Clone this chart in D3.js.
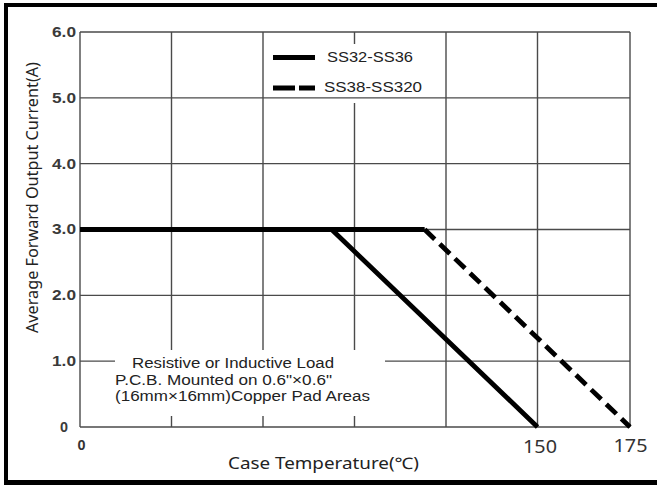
<!DOCTYPE html>
<html>
<head>
<meta charset="utf-8">
<script src="https://cdn.jsdelivr.net/npm/d3@7"></script>
<style>
  body { margin: 0; background: #fff; }
  svg { display: block; }
</style>
</head>
<body>
<svg id="chart" width="657" height="485"></svg>
<script>
// data
const xTicks = [0, 30, 60, 90, 120, 150, 175];
const xTickLabels = ["0", "", "", "", "", "150", "175"];
const yTicks = [0, 1, 2, 3, 4, 5, 6];
const yTickLabels = ["0", "1.0", "2.0", "3.0", "4.0", "5.0", "6.0"];
const seriesNames = ["SS32-SS36", "SS38-SS320"];
const ss32Temp = [0, 82.5, 150];
const ss32Current = [3.0, 3.0, 0];
const ss38Temp = [0, 113, 175];
const ss38Current = [3.0, 3.0, 0];
const noteLines = ["Resistive or Inductive Load", "P.C.B. Mounted on 0.6\"\u00d70.6\"", "(16mm\u00d716mm)Copper Pad Areas"];

const svg = d3.select("#chart");
const plotLeft = 80, plotRight = 630, plotTop = 32, plotBottom = 427;

// grid is evenly spaced but the last column is only 25 degC wide
const x = d3.scaleLinear().domain([0, 150, 175]).range([plotLeft, 537.5, plotRight]);
const y = d3.scaleLinear().domain([0, 6]).range([plotBottom, plotTop]);

// the source image is stretched sideways, so text widths are forced
const arial = "'Liberation Sans', Arial, sans-serif";
const noto = "'Noto Sans', 'Open Sans', sans-serif";

// outer frame (right edge is cut off in the original)
svg.append("path")
  .attr("d", "M6,485 L6,5 L657,5")
  .attr("fill", "none").attr("stroke", "#000").attr("stroke-width", 4);
svg.append("line").attr("x1", 4).attr("x2", 657).attr("y1", 482.5).attr("y2", 482.5)
  .attr("stroke", "#000").attr("stroke-width", 5);

const gridColor = "#4a4a4a";

// vertical grid
svg.append("g").selectAll("line").data(xTicks).join("line")
  .attr("x1", d => x(d)).attr("x2", d => x(d))
  .attr("y1", y(6)).attr("y2", y(0))
  .attr("stroke", gridColor).attr("stroke-width", 1.4);

// legend backing hides the vertical grid behind it
svg.append("rect").attr("x", 266).attr("y", 44).attr("width", 176).attr("height", 59).attr("fill", "#fff");

// horizontal grid
svg.append("g").selectAll("line").data(yTicks).join("line")
  .attr("x1", x(0)).attr("x2", x(175))
  .attr("y1", d => y(d)).attr("y2", d => y(d))
  .attr("stroke", gridColor).attr("stroke-width", 1.4);

// note backing
svg.append("rect").attr("x", 115).attr("y", 350).attr("width", 270).attr("height", 66).attr("fill", "#fff");

// y axis labels
const yAxis = d3.axisLeft(y).tickValues(yTicks).tickSize(0).tickPadding(4)
  .tickFormat((d, i) => yTickLabels[i]);
const gy = svg.append("g").attr("transform", `translate(${plotLeft},0)`).call(yAxis);
gy.select(".domain").remove();
gy.selectAll("text").attr("font-family", arial).attr("font-size", 14)
  .attr("font-weight", "bold").attr("fill", "#3a3a3a")
  .attr("textLength", (d, i) => yTickLabels[i].length > 1 ? 24 : 8)
  .attr("lengthAdjust", "spacingAndGlyphs");
gy.selectAll(".tick").filter(d => d === 0).select("text").attr("dx", -8);

// x axis labels
const xAxis = d3.axisBottom(x).tickValues(xTicks).tickSize(0).tickPadding(12)
  .tickFormat((d, i) => xTickLabels[i]);
const gx = svg.append("g").attr("transform", `translate(0,${plotBottom})`).call(xAxis);
gx.select(".domain").remove();
gx.selectAll("text").attr("font-family", noto).attr("font-size", 18)
  .attr("fill", "#333").attr("textLength", 34).attr("lengthAdjust", "spacingAndGlyphs");
gx.selectAll(".tick").filter(d => d === 0).select("text")
  .attr("font-family", arial).attr("font-weight", "bold").attr("font-size", 14)
  .attr("textLength", 8).attr("dx", 1).attr("dy", "0.75em");
gx.selectAll(".tick").filter(d => d === 150).select("text").attr("dx", 2).attr("dy", "0.78em");

// axis titles
svg.append("text").attr("x", 323.5).attr("y", 469).attr("text-anchor", "middle")
  .attr("font-family", noto).attr("font-size", 16).attr("fill", "#222")
  .attr("textLength", 191).attr("lengthAdjust", "spacingAndGlyphs")
  .text("Case Temperature(\u2103)");
svg.append("text").attr("transform", "translate(38,197.5) rotate(-90)").attr("text-anchor", "middle")
  .attr("font-family", noto).attr("font-size", 16).attr("fill", "#222")
  .attr("textLength", 271).attr("lengthAdjust", "spacingAndGlyphs")
  .text("Average Forward Output Current(A)");

// data lines
const line = d3.line().x(d => x(d[0])).y(d => y(d[1]));
const ss32 = ss32Temp.map((t, i) => [t, ss32Current[i]]);
const ss38 = ss38Temp.map((t, i) => [t, ss38Current[i]]);

// flat part of SS38 sits under the solid line and is drawn solid
svg.append("path").attr("d", line(ss38.slice(0, 2)))
  .attr("fill", "none").attr("stroke", "#000").attr("stroke-width", 4.8);
svg.append("path").attr("d", line(ss38.slice(1)))
  .attr("fill", "none").attr("stroke", "#000").attr("stroke-width", 4.8)
  .attr("stroke-dasharray", "14,7");
svg.append("path").attr("d", line(ss32))
  .attr("fill", "none").attr("stroke", "#000").attr("stroke-width", 4.8)
  .attr("stroke-linejoin", "round");

// legend
const legendWidths = [86, 98];
const legend = svg.append("g").attr("transform", "translate(273,57.5)");
seriesNames.forEach((name, i) => {
  const g = legend.append("g").attr("transform", `translate(0,${i * 30.5})`);
  g.append("line").attr("x1", 0).attr("x2", 42).attr("y1", 0).attr("y2", 0)
    .attr("stroke", "#000").attr("stroke-width", 4.8)
    .attr("stroke-dasharray", i === 1 ? "22,4" : null);
  g.append("text").attr("x", i === 1 ? 51 : 54).attr("y", 4)
    .attr("font-family", arial).attr("font-size", 15).attr("fill", "#222")
    .attr("textLength", legendWidths[i]).attr("lengthAdjust", "spacingAndGlyphs")
    .text(name);
});

// test-condition note
const noteX = [132, 115, 115];
const noteY = [368, 385, 401];
const noteWidths = [202, 217, 255];
noteLines.forEach((t, i) => {
  svg.append("text").attr("x", noteX[i]).attr("y", noteY[i])
    .attr("font-family", arial).attr("font-size", 14).attr("fill", "#222")
    .attr("textLength", noteWidths[i]).attr("lengthAdjust", "spacingAndGlyphs")
    .text(t);
});
</script>
</body>
</html>
